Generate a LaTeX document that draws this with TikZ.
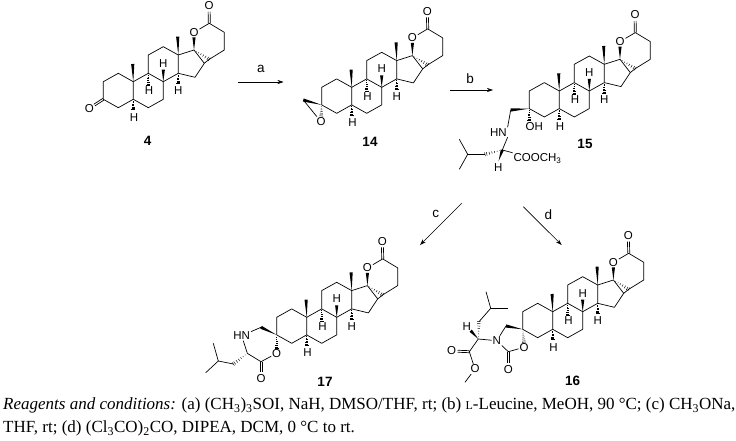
\documentclass[tikz,border=0pt]{standalone}
\usepackage{fontspec}
\setmainfont{Liberation Serif}
\setsansfont{Liberation Sans}
\usepackage{tikz}
\usetikzlibrary{calc,arrows.meta}

\tikzset{
    bond/.style={line width=0.7pt, line join=round},
    atom/.style={font=\sffamily\fontsize{11.5}{12}\selectfont, inner sep=0.8pt},
    num/.style={font=\sffamily\bfseries\fontsize{13.5}{14}\selectfont, inner sep=0pt},
    step label/.style={font=\sffamily\fontsize{13.5}{14}\selectfont, inner sep=0pt},
    rxn/.style={line width=0.6pt, -{Stealth[length=6pt,width=4pt]}},
    caption line/.style={font=\fontsize{17}{18}\selectfont, anchor=west, inner sep=0pt}
}

% solid and hashed stereo bonds, narrow end first
\newcommand{\wedgebond}[2]{
    \fill (#1) -- ($(#2)!1.6pt!90:(#1)$) -- ($(#2)!1.6pt!-90:(#1)$) -- cycle;
}
\newcommand{\hashbond}[2]{
    \foreach \t in {0.15,0.3,0.45,0.6,0.75,0.9,1} {
        \pgfmathsetmacro{\w}{1.9*\t}
        \draw [line width=0.45pt] ($(#1)!\t!(#2)!\w pt!90:(#1)$) -- ($(#1)!\t!(#2)!\w pt!-90:(#1)$);
    }
}
% C=O bond from a carbon to an oxygen node
\newcommand{\dblbond}[2]{
    \draw [bond] ($(#1)!1pt!90:(#2)$) -- ($(#2)!6pt!(#1)!1pt!-90:(#1)$);
    \draw [bond] ($(#1)!1pt!-90:(#2)$) -- ($(#2)!6pt!(#1)!1pt!90:(#1)$);
}

% steroid skeleton with the spiro lactone, placed by C10
\newcommand{\steroidcore}[3]{
    \begin{scope}[shift={(#2,#3)}, name prefix=#1-]
        \coordinate (c10) at (0,0);
        \coordinate (c5) at (0,17.6);
        \coordinate (c4) at (-15,26);
        \coordinate (c3) at (-30,17.6);
        \coordinate (c2) at (-30,0);
        \coordinate (c1) at (-15,-8.4);
        \coordinate (c9) at (15,-8.4);
        \coordinate (c8) at (30,0);
        \coordinate (c7) at (30,17.6);
        \coordinate (c6) at (15,26);
        \coordinate (c11) at (15,-26.7);
        \coordinate (c12) at (30,-35);
        \coordinate (c13) at (45,-26.7);
        \coordinate (c14) at (45,-8.4);
        \coordinate (c17) at (60.7,-31.7);
        \coordinate (c16) at (71,-18.4);
        \coordinate (c15) at (61.7,-4.4);
        \coordinate (c20) at (76,-58.4);
        \coordinate (c21) at (91,-49.4);
        \coordinate (c22) at (91,-31.7);
        \coordinate (c23) at (76,-22.4);
        \coordinate (me19) at (-0.6,-17.7);
        \coordinate (me18) at (44.4,-45);
        \coordinate (e9) at (15,3.5);
        \coordinate (e8) at (30,-12);
        \coordinate (e14) at (45,2);
        \coordinate (e5) at (0,28);
        \node [atom] (lo1) at (60.7,-49.4) {O};
        \node [atom] (lo2) at (75.7,-76) {O};
        \node [atom] (h9) at (15.7,9) {H};
        \node [atom] (h8) at (30,-18.4) {H};
        \node [atom] (h14) at (45,9) {H};
        \node [atom] (h5) at (0.7,35.6) {H};
        % rings
        \draw [bond] (c10) -- (c5) -- (c4) -- (c3) -- (c2) -- (c1) -- cycle;
        \draw [bond] (c10) -- (c9) -- (c8) -- (c7) -- (c6) -- (c5);
        \draw [bond] (c9) -- (c11) -- (c12) -- (c13) -- (c14) -- (c8);
        \draw [bond] (c13) -- (c17) -- (c16) -- (c15) -- (c14);
        % lactone
        \draw [bond] (lo1) -- (c20) -- (c21) -- (c22) -- (c23) -- (c16);
        \dblbond{c20}{lo2}
        \wedgebond{c17}{lo1.south}
        \hashbond{c17}{c23}
        % methyls and hydrogens
        \wedgebond{c10}{me19}
        \wedgebond{c13}{me18}
        \wedgebond{c8}{e8}
        \hashbond{c9}{e9}
        \hashbond{c14}{e14}
        \hashbond{c5}{e5}
    \end{scope}
}

\begin{document}
\begin{tikzpicture}[x=1pt, y=-1pt]
    \useasboundingbox (0,0) rectangle (736,441);

    % Compound 4
    \steroidcore{s4}{133.3}{81.7}
    \node [atom] (s4-o3) at (89.3,108.3) {O};
    \dblbond{s4-c3}{s4-o3}
    \node [num] (s4-num) at (147.7,140.7) {4};

    % Compound 14
    \steroidcore{s14}{351.7}{87.3}
    \node [atom] (s14-o) at (321,121.7) {O};
    \coordinate (s14-ch2) at (303.3,100);
    \coordinate (s14-end) at (321.2,116);
    \draw [bond] (s14-ch2) -- (s14-o);
    \wedgebond{s14-c3}{s14-ch2}
    \hashbond{s14-c3}{s14-end}
    \node [num] (s14-num) at (370,141.7) {14};

    % Compound 15
    \steroidcore{s15}{559.3}{91}
    \node [atom] (s15-oh) at (534.3,126.7) {OH};
    \node [atom] (s15-hn) at (498.3,132.3) {HN};
    \node [atom] (s15-h) at (498.3,167.7) {H};
    \node [atom, anchor=west] (s15-ester) at (512.6,158.7) {COOCH\textsubscript{3}};
    \coordinate (s15-ch2) at (510.7,110);
    \coordinate (s15-end) at (529.3,120);
    \coordinate (s15-star) at (502.3,150);
    \coordinate (s15-wend) at (498.6,161);
    \coordinate (s15-b) at (485,154.3);
    \coordinate (s15-ch) at (467.7,154.3);
    \coordinate (s15-me1) at (459.3,139.3);
    \coordinate (s15-me2) at (459.3,169.3);
    \wedgebond{s15-c3}{s15-ch2}
    \hashbond{s15-c3}{s15-end}
    \draw [bond] (s15-ch2) -- (s15-hn.north east);
    \draw [bond] (s15-hn.south east) -- (s15-star) -- (s15-ester.north west);
    \wedgebond{s15-wend}{s15-star}
    \hashbond{s15-star}{s15-b}
    \draw [bond] (s15-me1) -- (s15-ch) -- (s15-me2);
    \draw [bond] (s15-ch) -- (s15-b);
    \node [num] (s15-num) at (585,144) {15};

    % Compound 17
    \steroidcore{s17}{306.7}{317.3}
    \node [atom] (s17-hn) at (241.7,335.7) {HN};
    \node [atom] (s17-o1) at (276.7,353.3) {O};
    \node [atom] (s17-o2) at (261,378.3) {O};
    \coordinate (s17-ch2) at (261,327.3);
    \coordinate (s17-star) at (247.3,353.3);
    \coordinate (s17-co) at (261,361.7);
    \coordinate (s17-b) at (233.3,364);
    \coordinate (s17-ch) at (218.3,361);
    \coordinate (s17-me1) at (213.3,343.3);
    \coordinate (s17-me2) at (205.7,372.7);
    \wedgebond{s17-c3}{s17-ch2}
    \hashbond{s17-c3}{s17-o1.north}
    \draw [bond] (s17-ch2) -- (s17-hn);
    \draw [bond] (s17-hn) -- (s17-star) -- (s17-co) -- (s17-o1);
    \dblbond{s17-co}{s17-o2}
    \hashbond{s17-star}{s17-b}
    \draw [bond] (s17-b) -- (s17-ch) -- (s17-me1);
    \draw [bond] (s17-ch) -- (s17-me2);
    \node [num] (s17-num) at (325,382.3) {17};

    % Compound 16
    \steroidcore{s16}{552.7}{311.7}
    \node [atom] (s16-n) at (496.7,340.7) {N};
    \node [atom] (s16-o1) at (524,347.3) {O};
    \node [atom] (s16-o2) at (508.3,369.3) {O};
    \node [atom] (s16-h) at (466.7,326.7) {H};
    \node [atom] (s16-o3) at (451.7,351) {O};
    \node [atom] (s16-o4) at (475,369) {O};
    \coordinate (s16-ch2) at (506,326);
    \coordinate (s16-co) at (508.3,351.7);
    \coordinate (s16-star) at (478.3,339);
    \coordinate (s16-wend) at (470.7,330.7);
    \coordinate (s16-b) at (479,321.7);
    \coordinate (s16-ch) at (490.7,308.3);
    \coordinate (s16-me1) at (486,291.7);
    \coordinate (s16-me2) at (508.3,308.3);
    \coordinate (s16-ester) at (469.3,351.7);
    \coordinate (s16-me3) at (465,382.3);
    \wedgebond{s16-c3}{s16-ch2}
    \hashbond{s16-c3}{s16-o1.north}
    \draw [bond] (s16-ch2) -- (s16-n) -- (s16-co) -- (s16-o1);
    \dblbond{s16-co}{s16-o2}
    \draw [bond] (s16-n) -- (s16-star) -- (s16-ester) -- (s16-o4) -- (s16-me3);
    \dblbond{s16-ester}{s16-o3}
    \wedgebond{s16-star}{s16-wend}
    \hashbond{s16-star}{s16-b}
    \draw [bond] (s16-b) -- (s16-ch) -- (s16-me1);
    \draw [bond] (s16-ch) -- (s16-me2);
    \node [num] (s16-num) at (572.7,380.7) {16};

    % Reaction arrows
    \coordinate (a-from) at (238,82);
    \coordinate (a-to) at (283.5,82);
    \coordinate (b-from) at (450,90);
    \coordinate (b-to) at (493,90);
    \coordinate (c-from) at (461.7,203.3);
    \coordinate (c-to) at (420,245);
    \coordinate (d-from) at (523.3,206.7);
    \coordinate (d-to) at (561.7,245);
    \draw [rxn] (a-from) -- (a-to);
    \draw [rxn] (b-from) -- (b-to);
    \draw [rxn] (c-from) -- (c-to);
    \draw [rxn] (d-from) -- (d-to);
    \node [step label] (a-label) at (261,69) {a};
    \node [step label] (b-label) at (470,79) {b};
    \node [step label] (c-label) at (435.7,214) {c};
    \node [step label] (d-label) at (548.3,215) {d};

    % Conditions
    \node [caption line] (line-one) at (3,405.5) {\textit{Reagents and conditions:} (a) (CH\textsubscript{3})\textsubscript{3}SOI, NaH, DMSO/THF, rt; (b) {\fontsize{12}{12}\selectfont L}-Leucine, MeOH, 90 °C; (c) CH\textsubscript{3}ONa,};
    \node [caption line] (line-two) at (3,428.5) {THF, rt; (d) (Cl\textsubscript{3}CO)\textsubscript{2}CO, DIPEA, DCM, 0 °C to rt.};
\end{tikzpicture}
\end{document}
